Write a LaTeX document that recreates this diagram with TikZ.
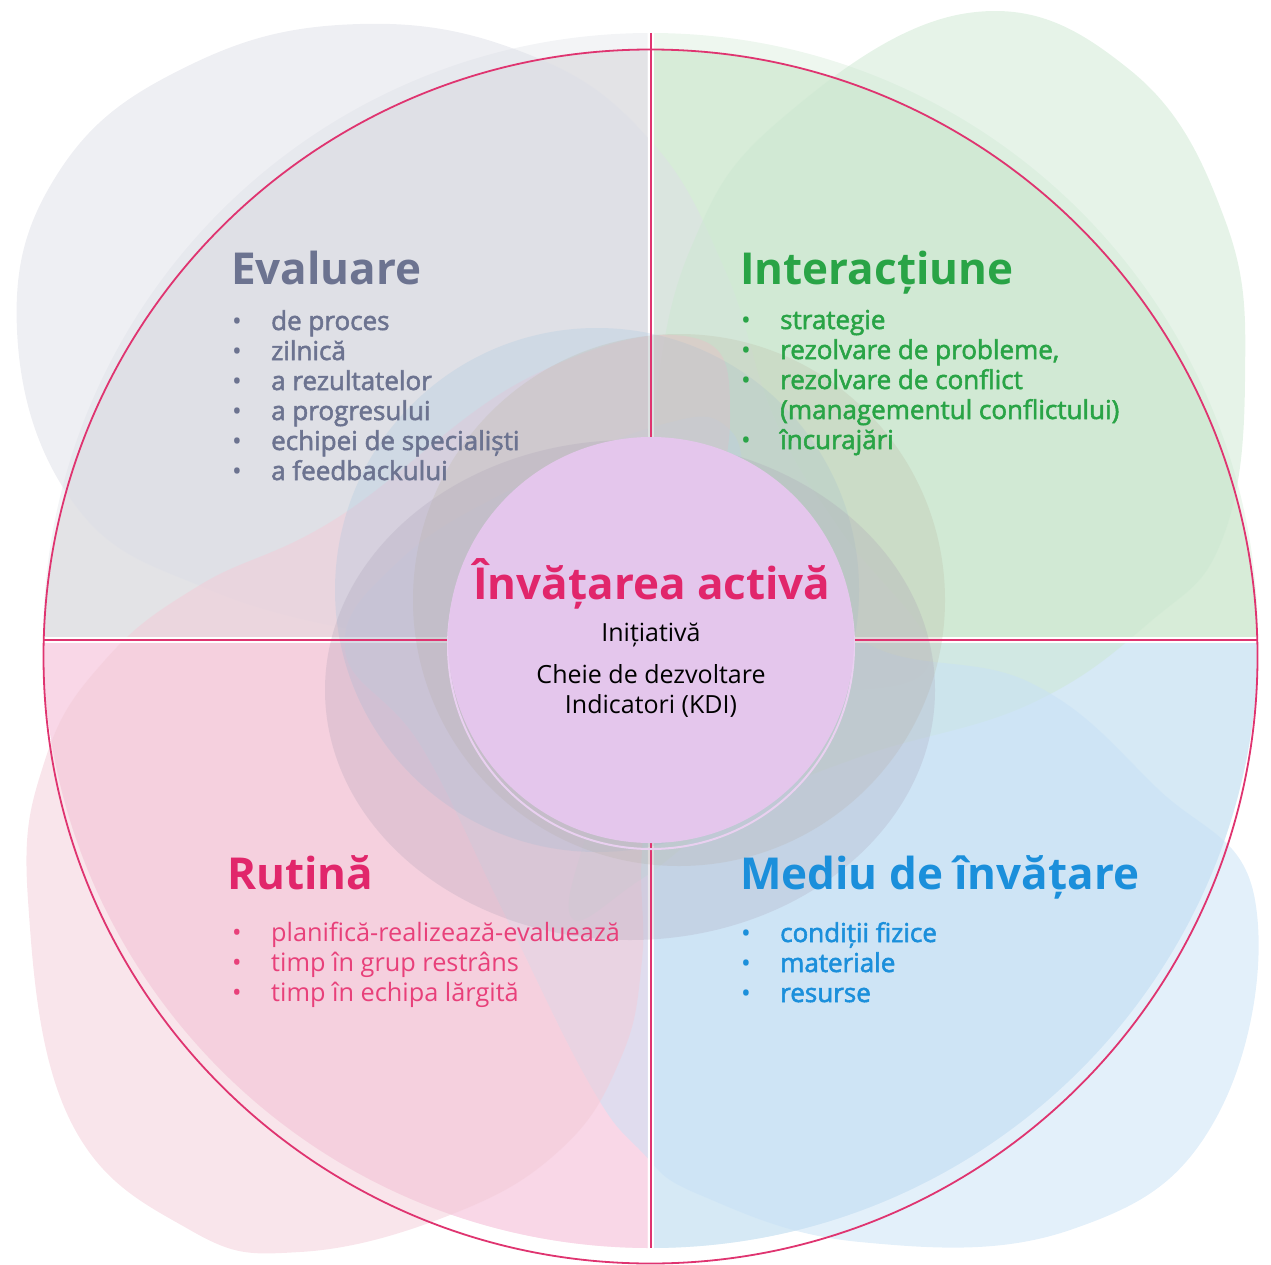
\documentclass[tikz,border=0pt]{standalone}
\usepackage{fontspec}
\setmainfont{Open Sans}
\usepackage{tikz}
\usetikzlibrary{positioning}
\definecolor{evalc}{HTML}{6C7390}
\definecolor{interc}{HTML}{29A446}
\definecolor{rutc}{HTML}{E1266B}
\definecolor{rutitem}{HTML}{E8407A}
\definecolor{mediuc}{HTML}{1B8FDB}
\definecolor{linec}{HTML}{DF3470}
\definecolor{corec}{HTML}{E4C6EC}
\definecolor{ghostc}{HTML}{E9D0F0}
\definecolor{tlLight}{HTML}{F3F4F6}\definecolor{tlMid}{HTML}{E3E3E6}\definecolor{tlBlob}{HTML}{DDDFE7}
\definecolor{trLight}{HTML}{EEF7EF}\definecolor{trMid}{HTML}{D7ECD8}\definecolor{trBlob}{HTML}{CDE8D2}
\definecolor{brLight}{HTML}{EEF5FB}\definecolor{brMid}{HTML}{D6E9F5}\definecolor{brBlob}{HTML}{C8E1F5}
\definecolor{blLight}{HTML}{FBEFF2}\definecolor{blMid}{HTML}{F9D7E7}\definecolor{blBlob}{HTML}{F3CBD7}
\definecolor{midblue}{HTML}{9DC3E0}
\definecolor{midtan}{HTML}{B9B49E}
\definecolor{midmauve}{HTML}{A79DB3}
\newcommand{\heavier}[1]{\special{pdf:literal 2 Tr 0.55 w}#1\special{pdf:literal 0 Tr 1 w}}
\newcommand{\quadrant}[3]{\begin{scope}
  \clip #1;
  \fill[#2] (650.5,640.5) circle (607.5);
  \clip (650.5,640.5) circle (607.5);
  \fill[#3] (650.5,656.5) circle (607);\end{scope}}
\newcommand{\itemlist}[6]{\foreach \b/\t [count=\i from 0] in {#6}{
  \node[itemtext,#4] (#1\i) at (#2,#3+30*\i) {#5{\t}};
  \ifnum\b=1\relax\node[itemtext,#4] (#1dot\i) at (#2-39,#3+30*\i) {•};\fi}}

\begin{document}
\begin{tikzpicture}[x=1pt,y=-1pt,
  headtext/.style={anchor=base west,inner sep=0pt,font=\fontsize{44}{48}\selectfont\bfseries},
  itemtext/.style={anchor=base west,inner sep=0pt,font=\fontsize{26}{30}\selectfont},
  thin/.style={font=\fontsize{25.3}{30}\selectfont},
  blob/.style={fill opacity=0.5},
  midblob/.style={fill opacity=0.24}]
\useasboundingbox (0,0) rectangle (1271,1265);
\quadrant{(0,0) rectangle (647.5,637.5)}{tlLight}{tlMid}
\quadrant{(654,0) rectangle (1271,637.5)}{trLight}{trMid}
\quadrant{(0,643.5) rectangle (647.5,1265)}{blLight}{blMid}
\quadrant{(654,643.5) rectangle (1271,1265)}{brLight}{brMid}
\fill[tlBlob,blob] plot[smooth cycle,tension=0.7] coordinates {(17,330) (60,170) (190,65) (360,24) (530,55) (650,140) (725,270) (775,420) (840,530) (930,650) (860,690) (700,665) (520,650) (390,637) (210,590) (75,505)};
\fill[trBlob,blob] plot[smooth cycle,tension=0.7] coordinates {(652,421) (690,250) (780,120) (968,13) (1130,70) (1225,220) (1245,380) (1222,540) (1150,622) (1030,704) (862,756) (736,810) (640,880) (570,915) (600,780) (635,580)};
\fill[brBlob,blob] plot[smooth cycle,tension=0.7] coordinates {(1255,900) (1215,1120) (1070,1230) (860,1242) (700,1195) (640,1150) (589,1083) (505,915) (421,746) (345,650) (400,560) (520,485) (660,425) (730,430) (760,520) (862,641) (1031,683) (1157,788)};
\fill[blBlob,blob] plot[smooth cycle,tension=0.7] coordinates {(28,900) (70,1120) (190,1230) (300,1252) (450,1215) (560,1150) (620,1060) (642,960) (645,820) (690,600) (730,420) (690,337) (526,379) (337,518) (200,585) (105,660) (45,760)};
\draw[white,line width=6] (43,640) -- (1258,640);
\draw[white,line width=6] (651,33) -- (651,1248);
\fill[midblue,midblob] (597,590) circle (262);
\fill[midtan,midblob] (679,600) circle (266);
\fill[midmauve,midblob] (630,690) ellipse (305 and 250);
\draw[linec,line width=1.6] (43,640) -- (1258,640);
\draw[linec,line width=1.6] (651,33) -- (651,1248);
\draw[ghostc,line width=2] (651,646) circle (203);
\node[circle,fill=corec,minimum size=406,inner sep=0pt] (core) at (651,640) {};
\draw[linec,line width=1.8] (650.5,656.5) circle (607);
\node[anchor=base,inner sep=0pt,text=rutc,font=\fontsize{44}{48}\selectfont\bfseries] (coretitle) at (652,599) {Învățarea activă};
\node[anchor=base,inner sep=0pt,font=\fontsize{25}{30}\selectfont] (init) at (651,641) {Inițiativă};
\node[anchor=base,inner sep=0pt,font=\fontsize{25}{30}\selectfont] (kdi1) at (651,683) {Cheie de dezvoltare};
\node[anchor=base,inner sep=0pt,font=\fontsize{25}{30}\selectfont] (kdi2) at (651,713) {Indicatori (KDI)};
\node[headtext,text=evalc] (evhead) at (231,284) {Evaluare};
\itemlist{ev}{271}{330}{text=evalc}{\heavier}{1/de proces,1/zilnică,1/a rezultatelor,1/a progresului,1/echipei de specialiști,1/a feedbackului}
\node[headtext,text=interc] (inhead) at (740,284) {Interacțiune};
\itemlist{in}{780}{329}{text=interc}{\heavier}{1/strategie,1/{rezolvare de probleme,},1/rezolvare de conflict,0/(managementul conflictului),1/încurajări}
\node[headtext,text=rutc] (ruhead) at (227,889) {Rutină};
\itemlist{ru}{271}{941}{text=rutitem,thin}{\relax}{1/planifică-realizează-evaluează,1/timp în grup restrâns,1/timp în echipa lărgită}
\node[headtext,text=mediuc] (mehead) at (740,889) {Mediu de învățare};
\itemlist{me}{780}{942}{text=mediuc}{\heavier}{1/condiții fizice,1/materiale,1/resurse}
\end{tikzpicture}
\end{document}
